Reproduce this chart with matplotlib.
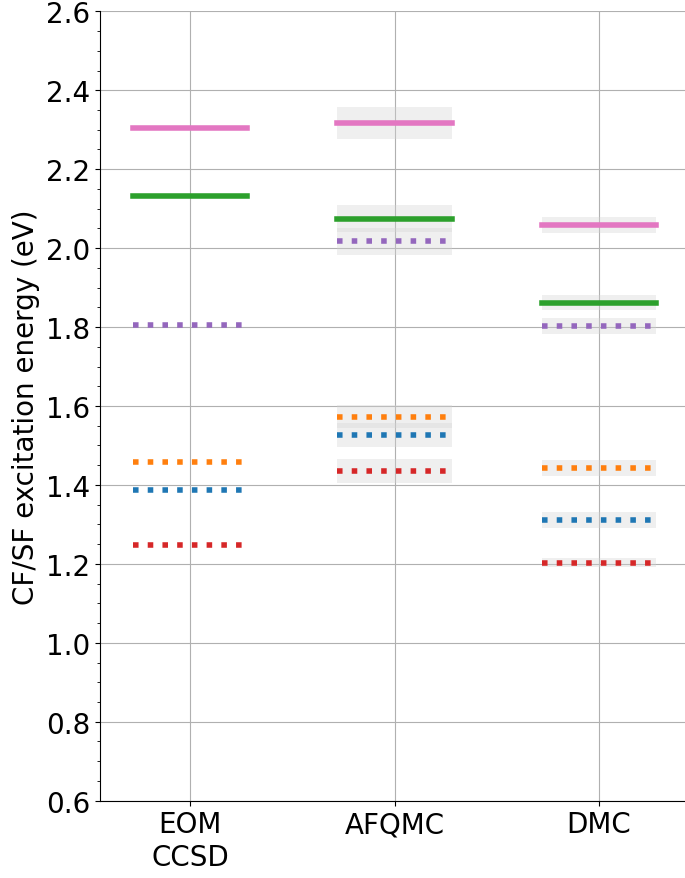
import matplotlib
matplotlib.use("Agg")
import matplotlib.pyplot as plt
from matplotlib.ticker import MultipleLocator

methods = ["EOM\nCCSD", "AFQMC", "DMC"]
# state: (colour, linestyle)
states = ["blue", "orange", "green", "red", "purple", "pink"]
colors = {"blue": "tab:blue", "orange": "tab:orange", "green": "tab:green",
          "red": "tab:red", "purple": "tab:purple", "pink": "tab:pink"}
styles = {"blue": ":", "orange": ":", "green": "-", "red": ":", "purple": ":", "pink": "-"}

eom = {"blue": 1.386, "orange": 1.458, "green": 2.132, "red": 1.247, "purple": 1.805, "pink": 2.305}
afqmc = {"blue": 1.527, "orange": 1.573, "green": 2.075, "red": 1.435, "purple": 2.017, "pink": 2.317}
afqmc_err = {"blue": 0.03, "orange": 0.03, "green": 0.035, "red": 0.03, "purple": 0.035, "pink": 0.04}
dmc = {"blue": 1.312, "orange": 1.442, "green": 1.862, "red": 1.203, "purple": 1.803, "pink": 2.058}
dmc_err = {"blue": 0.02, "orange": 0.02, "green": 0.02, "red": 0.012, "purple": 0.02, "pink": 0.02}

plt.rcParams["font.size"] = 20
fig, ax = plt.subplots(figsize=(6.85, 8.79), dpi=100)
hw = 0.28
for s in states:
    for i, (vals, errs) in enumerate([(eom, None), (afqmc, afqmc_err), (dmc, dmc_err)]):
        v = vals[s]
        if errs is not None:
            ax.fill_between([i - hw, i + hw], v - errs[s], v + errs[s],
                            color="lightgray", alpha=0.35, lw=0, zorder=2)
        ax.plot([i - hw, i + hw], [v, v], color=colors[s], ls=styles[s],
                lw=4, zorder=3)

ax.set_xticks(range(len(methods)))
ax.set_xticklabels(methods)
ax.set_xlim(-0.44, 2.42)
ax.set_ylim(0.6, 2.6)
ax.yaxis.set_major_locator(MultipleLocator(0.2))
ax.yaxis.set_minor_locator(MultipleLocator(0.05))
ax.set_ylabel("CF/SF excitation energy (eV)")
ax.grid(True, zorder=0)
ax.set_axisbelow(True)
ax.spines[["top", "right"]].set_visible(False)
fig.subplots_adjust(left=0.146, right=1.0, top=0.986, bottom=0.088)
fig.savefig("out.png", dpi=100)
